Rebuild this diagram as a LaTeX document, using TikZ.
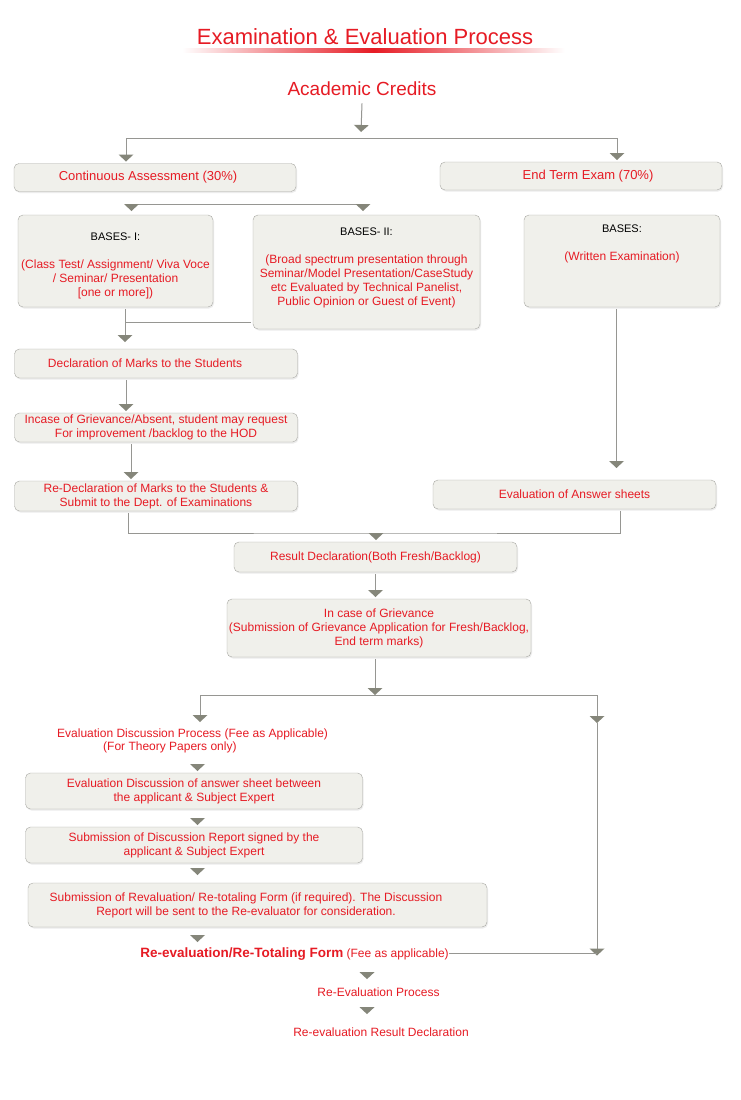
\documentclass[tikz,border=0pt]{standalone}
\usepackage{fontspec}
\setmainfont{Liberation Sans}
\usetikzlibrary{arrows.meta, positioning, calc, shadows}

\definecolor{textred}{RGB}{230,27,36}
\definecolor{boxfill}{RGB}{240,240,235}
\definecolor{boxline}{RGB}{168,168,163}
\definecolor{linegray}{RGB}{150,150,146}
\definecolor{trigray}{RGB}{133,134,122}

\newcommand\basetag[1]{{\color{black}\fontsize{11}{14}\selectfont #1}}

\tikzset{
    stage/.style={rectangle, rounded corners=5pt, draw=boxline, fill=boxfill,
        text=textred, align=center, inner sep=0pt, outer sep=2pt,
        font=\fontsize{12}{14}\selectfont,
        drop shadow={opacity=0.15, shadow xshift=1pt, shadow yshift=-1.5pt}},
    boxsize/.style 2 args={minimum width=#1pt, minimum height=#2pt},
    caption/.style={text=textred, inner sep=0pt, font=\fontsize{12}{14}\selectfont},
    link/.style={draw=linegray, line width=1pt},
    flow/.style={link, -{Triangle[width=15pt, length=7pt, line width=0pt, color=trigray]}},
}

\begin{document}
\begin{tikzpicture}[x=1pt, y=-1pt]
    \fill[white] (0,0) rectangle (740,1100);
    \useasboundingbox (0,0) rectangle (740,1100);

    % heading
    \node[caption, anchor=base, font=\fontsize{22}{26}\selectfont] (title) at (365,44) {Examination \& Evaluation Process};
    \shade[left color=white, right color=white, middle color=textred] (182,48) rectangle (565,52);
    \node[caption, anchor=base, font=\fontsize{19}{22}\selectfont] (ac) at (362,95) {Academic Credits};

    % boxes
    \node[stage, boxsize={282}{28}, font=\fontsize{13}{15}\selectfont] (ca) at (155,177.5) {Continuous Assessment (30\%)\hspace*{14pt}};
    \node[stage, boxsize={282}{28}, font=\fontsize{13}{15}\selectfont] (et) at (581,176) {\hspace*{14pt}End Term Exam (70\%)};
    \node[stage, boxsize={195}{92}] (b1) at (115.5,261)
        {\mbox{}\\[4pt]\basetag{BASES- I:}\\[14pt](Class Test/ Assignment/ Viva Voce\\/ Seminar/ Presentation\\{}[one or more])};
    \node[stage, boxsize={227}{114}] (b2) at (366.5,272)
        {\basetag{BASES- II:}\\[14pt](Broad spectrum presentation through\\Seminar/Model Presentation/CaseStudy\\etc Evaluated by Technical Panelist,\\Public Opinion or Guest of Event)\\[-4pt]\mbox{}};
    \node[stage, boxsize={196}{92}] (b3) at (622,261)
        {\basetag{BASES:}\\[14pt](Written Examination)\\[22pt]\mbox{}};
    \node[stage, boxsize={283}{29}] (decl) at (156,363.5) {Declaration of Marks to the Students\hspace*{22pt}};
    \node[stage, boxsize={283}{29}] (incase) at (156,427.5) {Incase of Grievance/Absent, student may request\\For improvement /backlog to the HOD};
    \node[stage, boxsize={283}{30}] (redecl) at (156,496) {Re-Declaration of Marks to the Students \&\\Submit to the Dept. of Examinations};
    \node[stage, boxsize={283}{29}] (evas) at (574.5,494.5) {Evaluation of Answer sheets};
    \node[stage, boxsize={283}{30}] (result) at (375.5,557) {Result Declaration(Both Fresh/Backlog)};
    \node[stage, boxsize={304}{58}] (griev) at (379,628) {In case of Grievance\\(Submission of Grievance Application for Fresh/Backlog,\\End term marks)};
    \node[caption, align=left, anchor=north west, font=\fontsize{12}{13}\selectfont] (edp) at (57,729)
        {Evaluation Discussion Process (Fee as Applicable)\\\hspace*{46pt}(For Theory Papers only)};
    \node[stage, boxsize={337}{36}] (evd) at (194,791) {Evaluation Discussion of answer sheet between\\the applicant \& Subject Expert};
    \node[stage, boxsize={337}{36}] (subd) at (194,845) {Submission of Discussion Report signed by the\\applicant \& Subject Expert};
    \node[stage, boxsize={459}{44}] (subr) at (257.5,905)
        {Submission of Revaluation/ Re-totaling Form (if required). The Discussion\hspace*{23pt}\\Report will be sent to the Re-evaluator for consideration.\hspace*{23pt}};
    \node[caption, anchor=base] (form) at (294.5,957) {{\bfseries\fontsize{13.5}{16}\selectfont Re-evaluation/Re-Totaling Form} (Fee as applicable)};
    \node[caption, anchor=base] (rep) at (378.5,996) {Re-Evaluation Process};
    \node[caption, anchor=base] (rrd) at (381,1036) {Re-evaluation Result Declaration};

    % branch points
    \coordinate (fkA)  at (361,138);
    \coordinate (fkAl) at (126,138);
    \coordinate (fkAr) at (617,138);
    \coordinate (caL)  at (131.5,204);
    \coordinate (caR)  at (363,204);
    \coordinate (jB)   at (125,322);
    \coordinate (colA) at (126,0);
    \coordinate (colB) at (131,0);
    \coordinate (colC) at (616.5,0);
    \coordinate (jC)   at (376,533);
    \coordinate (jD)   at (375,695);
    \coordinate (jDl)  at (200,695);
    \coordinate (jDr)  at (597,695);
    \coordinate (colL) at (197.5,0);
    \coordinate (colM) at (367,0);

    % connectors
    \draw[flow] ([yshift=-8pt]ac.south) -- ([yshift=6pt]fkA);
    \draw[link] (fkAl) -- (fkAr);
    \draw[flow] (fkAl) -- (fkAl |- ca.north);
    \draw[flow] (fkAr) -- (fkAr |- et.north);

    \draw[link] (caL) -- (caR);
    \draw[flow] (caL) -- ++(0,7);
    \draw[flow] (caR) -- ++(0,7);

    \draw[flow, shorten >=5pt] (jB |- b1.south) -- (jB |- decl.north);
    \draw[link] (b2.west |- jB) -- (jB);
    \draw[flow, shorten >=10pt] (colC |- b3.south) -- (colC |- evas.north);

    \draw[flow] (colA |- decl.south) -- (colA |- incase.north);
    \draw[flow] (colB |- incase.south) -- (colB |- redecl.north);

    \draw[link] ([xshift=-28pt]redecl.south) |- (jC) -| ([xshift=45.5pt]evas.south);
    \draw[flow] (jC) -- (jC |- result.north);
    \draw[flow] (result.south) -- (result.south |- griev.north);

    \draw[flow] (jD |- griev.south) -- (jD);
    \draw[link] (jDl) -- (jDr);
    \draw[flow] (jDl) -- ++(0,27);
    \draw[flow] (jDr) -- ++(0,28);
    \draw[flow] ([yshift=-28pt]jDr) -- ($(jDr |- form.east)+(0,2)$);
    \draw[link] (form.east) -- (form.east -| jDr);

    \draw[flow] ($(colL |- evd.north)+(0,-7)$) -- (colL |- evd.north);
    \draw[flow] ($(colL |- subd.north)+(0,-7)$) -- (colL |- subd.north);
    \draw[flow] ($(colL |- subr.north)+(0,-13)$) -- ++(0,7);
    \draw[flow] ($(colL |- form.north)+(0,-12)$) -- ++(0,7);
    \draw[flow] ($(colM |- rep.north)+(0,-15)$) -- ++(0,7);
    \draw[flow] ($(colM |- rrd.north)+(0,-20)$) -- ++(0,7);
\end{tikzpicture}
\end{document}
